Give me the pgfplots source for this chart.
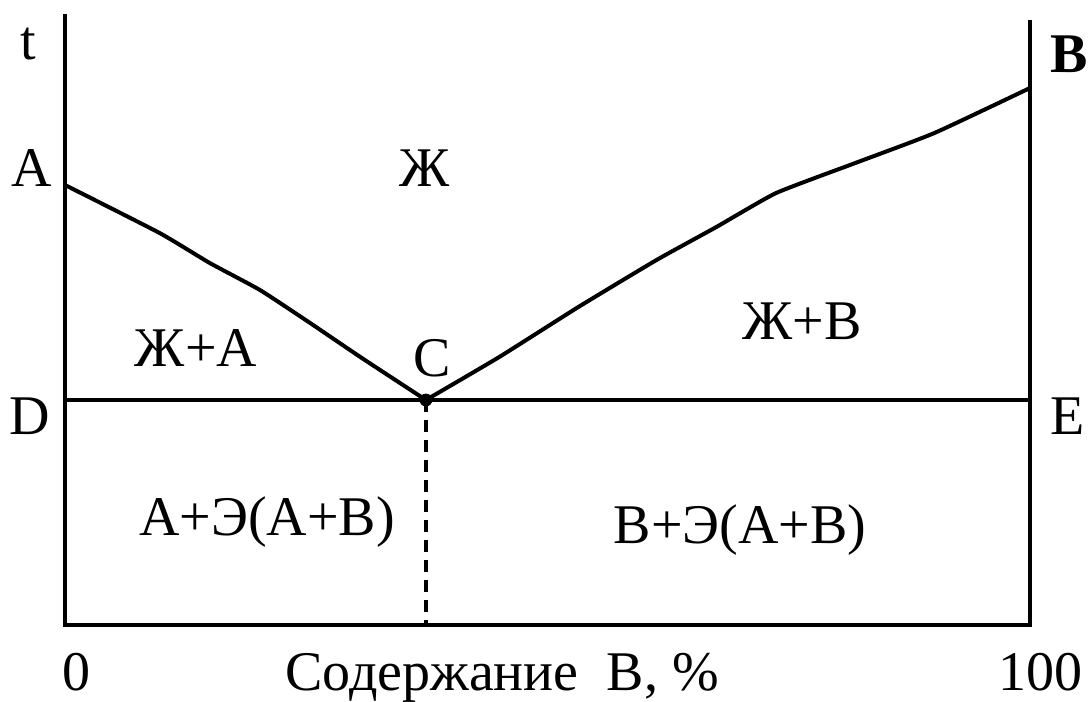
\documentclass[border=0pt]{standalone}
\usepackage{fontspec}
\setmainfont{Liberation Serif}
\usepackage{pgfplots}
\pgfplotsset{compat=1.18}
\tikzset{lbl/.style={font=\fontsize{28}{32}\selectfont, anchor=base, inner sep=0pt}}
\begin{document}
\begin{tikzpicture}
\begin{axis}[
  width=545pt, height=350.5pt, scale only axis,
  xmin=-6.7358, xmax=106.2176, ymin=-76, ymax=625,
  hide axis, clip=false,
]
% invisible corners fix the picture size
\addplot[draw=none] coordinates {(-6.7358,-76) (106.2176,625)};
% left and right temperature axes, bottom
\addplot[black, line width=2pt] coordinates {(0,611) (0,0) (100,0) (100,605)};
% eutectic horizontal D-E
\addplot[black, line width=2pt] coordinates {(0,225) (100,225)};
% liquidus A-C
\addplot[black, line width=2pt, smooth, tension=0.3] coordinates {
  (0,440) (9.8,392) (15.0,362) (20.2,335) (25.4,302) (30.6,268) (37.4,225)};
% liquidus C-B
\addplot[black, line width=2pt, smooth, tension=0.3] coordinates {
  (37.4,225) (45.0,268) (53.2,318) (61.3,365) (67.5,398) (73.7,432)
  (81.9,462) (90.1,492) (100,537)};
% dashed vertical from C
\addplot[black, line width=2pt, dash pattern=on 6pt off 4pt] coordinates {(37.4,225) (37.4,0)};
% eutectic point
\addplot[only marks, mark=*, mark size=3pt, black] coordinates {(37.4,225)};

\node[lbl] at (axis cs:-3.83,565) {t};
\node[lbl] at (axis cs:-3.42,438) {A};
\node[lbl] at (axis cs:-3.63,190) {D};
\node[lbl, font=\fontsize{28}{32}\selectfont\bfseries] at (axis cs:104.1,552) {B};
\node[lbl] at (axis cs:103.94,190) {E};
\node[lbl] at (axis cs:37.31,438) {Ж};
\node[lbl] at (axis cs:13.58,258) {Ж+A};
\node[lbl] at (axis cs:38.03,248) {C};
\node[lbl] at (axis cs:76.37,285) {Ж+B};
\node[lbl] at (axis cs:20.93,90) {A+Э(A+B)};
\node[lbl] at (axis cs:69.95,82) {B+Э(A+B)};
\node[lbl] at (axis cs:1.14,-65) {0};
\node[lbl] at (axis cs:45.28,-65) {Содержание\ \ B, \%};
\node[lbl] at (axis cs:101.04,-65) {100};
\end{axis}
\end{tikzpicture}
\end{document}
